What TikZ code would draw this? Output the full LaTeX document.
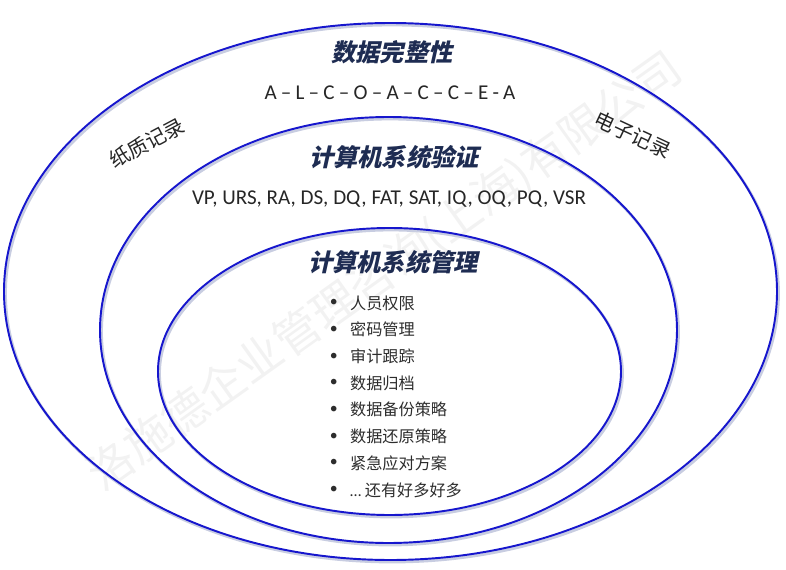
\documentclass[tikz,border=0pt]{standalone}
\usepackage{fontspec}
\setmainfont{Carlito}
\newfontfamily\cjk{Noto Sans CJK SC}
\newfontfamily\cjktitle[FakeSlant=0.22]{Noto Sans CJK SC}
\usetikzlibrary{positioning}

\definecolor{ringblue}{RGB}{22,22,205}
\definecolor{ringshade}{RGB}{200,205,225}
\definecolor{titlenavy}{RGB}{30,44,82}
\definecolor{itemgray}{RGB}{45,45,45}

\newcommand{\gap}{\hspace{0.2em}}

\begin{document}
\begin{tikzpicture}[
  ring/.style={draw=ringblue, line width=1.1pt},
  ringshadow/.style={draw=ringshade, line width=1.6pt},
  ttl/.style={font=\fontsize{13.8}{16}\cjktitle\bfseries, text=titlenavy, inner sep=1pt},
  abbr/.style={font=\fontsize{12}{14}\selectfont, text=black!85, inner sep=1pt},
  side/.style={font=\fontsize{11.6}{13}\cjk, text=black!85, inner sep=1pt},
  item/.style={font=\fontsize{9.2}{11}\cjk, text=itemgray, anchor=west, inner sep=1pt},
  dot/.style={font=\fontsize{9}{11}\selectfont, text=itemgray, inner sep=0pt},
  wmark/.style={font=\fontsize{26}{30}\cjk, text=black!5, inner sep=0pt},
]

  \useasboundingbox (0,0) rectangle (15.72,-11.40);

  % --- Ring centres ---
  \coordinate (cOuter) at (7.81,-5.83);
  \coordinate (cMid)   at (7.77,-6.60);
  \coordinate (cIn)    at (7.79,-7.43);

  % --- Watermark ---
  \node[wmark, rotate=35.5] (wm) at (7.70,-5.44) {洛施德企业管理咨询(上海)有限公司};

  % --- Rings (soft shadow, then line) ---
  \draw[ringshadow] ([shift={(0.03,-0.04)}]cOuter) ellipse [x radius=7.73, y radius=5.37];
  \draw[ringshadow] ([shift={(0.03,-0.04)}]cMid)   ellipse [x radius=5.77, y radius=4.26];
  \draw[ringshadow] ([shift={(0.03,-0.04)}]cIn)    ellipse [x radius=4.63, y radius=2.87];
  \draw[ring] (cOuter) ellipse [x radius=7.73, y radius=5.37];
  \draw[ring] (cMid)   ellipse [x radius=5.77, y radius=4.26];
  \draw[ring] (cIn)    ellipse [x radius=4.63, y radius=2.87];

  % ======== Outer ring ========
  \node[ttl]  (integrity) at (7.84,-1.04) {数据完整性};
  \node[abbr] (alcoa) at (7.80,-1.86)
    {A\gap--\gap L\gap--\gap C\gap--\gap O\gap--\gap A\gap--\gap C\gap--\gap C\gap--\gap E\gap-\gap A};
  \node[side, rotate=28]  (paper)  at (2.94,-2.86) {纸质记录};
  \node[side, rotate=-25] (eRecord) at (12.66,-2.70) {电子记录};

  % ======== Middle ring ========
  \node[ttl]  (validation) at (7.88,-3.14) {计算机系统验证};
  \node[abbr] (deliverables) at (7.78,-3.98)
    {VP, URS, RA, DS, DQ, FAT, SAT, IQ, OQ, PQ, VSR};

  % ======== Inner ring ========
  \node[ttl] (management) at (7.86,-5.24) {计算机系统管理};

  \foreach \txt [count=\i] in {人员权限, 密码管理, 审计跟踪, 数据归档,
                               数据备份策略, 数据还原策略, 紧急应对方案,
                               {{\fontspec{Carlito}\ldots}\ 还有好多好多}}
  {
    \node[item] (item\i) at (6.96,{-6.06-0.534*(\i-1)}) {\txt};
    \node[dot, left=0.20cm of item\i] (dot\i) {\textbullet};
  }

\end{tikzpicture}
\end{document}
